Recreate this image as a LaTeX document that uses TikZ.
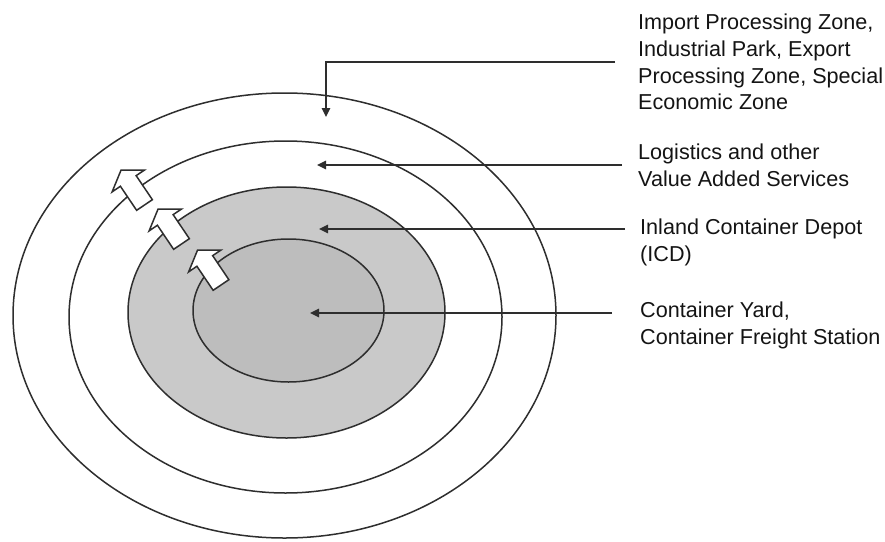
\documentclass[tikz,border=0pt]{standalone}
\usepackage{fontspec}
\setmainfont{Liberation Sans}
\usetikzlibrary{arrows.meta,calc}
\definecolor{ringgray}{gray}{0.79}
\definecolor{coregray}{gray}{0.74}
\definecolor{inkgray}{gray}{0.18}
\begin{document}
\begin{tikzpicture}[x=1pt,y=-1pt,
  zone/.style={draw=inkgray, line width=1.5pt},
  leader/.style={draw=inkgray, line width=1.6pt, -{Triangle[length=9pt,width=8.5pt]}},
  zonetext/.style={anchor=west, align=left, inner sep=0pt, text=black!92,
    font=\fontsize{21.6}{26.8}\selectfont},
  blockarrow/.style={draw=inkgray, fill=white, line width=1.5pt, line join=miter},
  pics/outarrow/.style={code={
    \path[blockarrow] (0,-9.5) -- (29,-9.5) -- (29,-19.5) -- (42,0)
      -- (29,19.5) -- (29,9.5) -- (0,9.5) -- cycle;}}
]
\useasboundingbox (0,0) rectangle (885,541);

% concentric zones, outermost first
\path[zone, fill=white]    (284.5,315.5) ellipse [x radius=271.5pt, y radius=222.5pt];
\path[zone, fill=white]    (285.5,317)   ellipse [x radius=216.5pt, y radius=176pt];
\path[zone, fill=ringgray] (286.5,312.5) ellipse [x radius=158.5pt, y radius=125.5pt];
\path[zone, fill=coregray] (288.5,310.5) ellipse [x radius=95.5pt,  y radius=71.5pt];

% outward block arrows across the zone borders
\pic[rotate=124] at (144.5,205) {outarrow};
\pic[rotate=124] at (181.5,244) {outarrow};
\pic[rotate=124] at (221,285)   {outarrow};

% zone descriptions
\node[zonetext] (sez) at (638,62) {Import Processing Zone,\\Industrial Park, Export\\Processing Zone, Special\\Economic Zone};
\node[zonetext] (vas) at (638,165) {Logistics and other\\Value Added Services};
\node[zonetext] (icd) at (640,242.5) {Inland Container Depot\\(ICD)};
\node[zonetext] (cy)  at (640,325.5) {Container Yard,\\Container Freight Station};

% target points inside the zones
\coordinate (pSEZ) at (326,117);
\coordinate (pVAS) at (317,165);
\coordinate (pICD) at (319,229);
\coordinate (pCY)  at (310,313);

% leaders
\draw[leader] ($(sez.west)+(-23,0)$) -| (pSEZ);
\draw[leader] ($(vas.west |- pVAS)+(-16,0)$) -- (pVAS);
\draw[leader] ($(icd.west |- pICD)+(-15,0)$) -- (pICD);
\draw[leader] ($(cy.west |- pCY)+(-28,0)$) -- (pCY);
\end{tikzpicture}
\end{document}
